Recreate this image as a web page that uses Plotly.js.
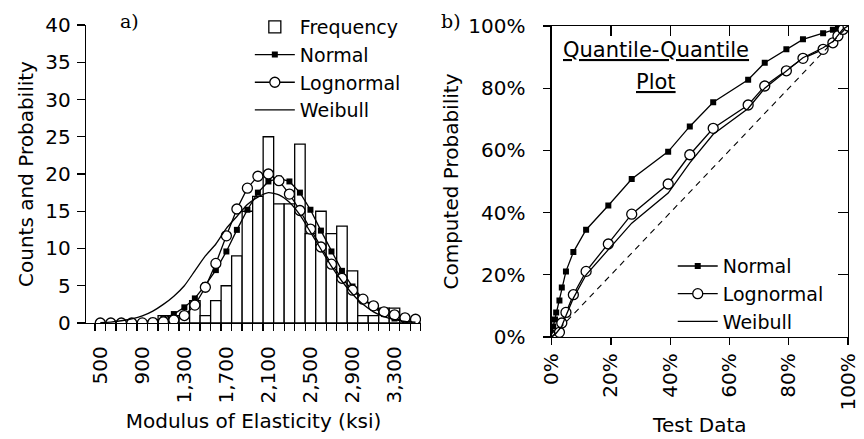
<!DOCTYPE html>
<html>
<head>
<meta charset="utf-8">
<script src="https://cdn.plot.ly/plotly-3.0.1.min.js"></script>
<style>html,body{margin:0;padding:0;background:#fff;}#chart{width:864px;height:439px;}</style>
</head>
<body>
<div id="chart"></div>
<script>
// ---- Panel a) histogram data (bin centres, ksi) ----
const bins = [500,600,700,800,900,1000,1100,1200,1300,1400,1500,1600,1700,1800,1900,2000,2100,2200,2300,2400,2500,2600,2700,2800,2900,3000,3100,3200,3300,3400,3500];
const frequency = [0,0,0,0,0,0,1,1,0,3,1,3,5,9,15,17,25,16,16,24,12,15,12,13,7,1,1,2,2,0,0];
const normalFit = [0.0,0.01,0.03,0.06,0.13,0.3,0.6,1.2,2.1,3.3,5.1,7.1,9.6,12.5,15.2,17.5,19.0,19.4,19.0,17.5,15.2,12.4,9.6,7.0,4.9,3.2,2.1,1.2,0.6,0.3,0.15];
const lognormalFit = [0,0,0,0,0.01,0.05,0.15,0.4,1.0,2.4,4.8,8.0,11.7,15.3,18.1,19.7,20.0,19.1,17.3,15.1,12.6,10.2,7.9,6.0,4.4,3.2,2.3,1.5,1.1,0.7,0.5];
const weibullFit = [0.05,0.12,0.3,0.55,0.95,1.6,2.5,3.6,5.0,7.0,9.0,10.6,12.7,14.3,15.9,16.9,17.5,17.2,16.2,14.5,12.2,9.9,7.6,5.6,3.9,2.5,1.5,0.85,0.45,0.2,0.1];
const xTickVals = [500,900,1300,1700,2100,2500,2900,3300];
const xTickText = ["500","900","1,300","1,700","2,100","2,500","2,900","3,300"];

// ---- Panel b) quantile-quantile data ----
const testData = [0.0,0.005,0.011,0.015,0.026,0.034,0.048,0.073,0.116,0.191,0.270,0.393,0.466,0.545,0.663,0.719,0.792,0.848,0.916,0.949,0.966,0.983,1.0];
const qqNormal = [0.013,0.034,0.056,0.079,0.117,0.159,0.211,0.273,0.345,0.423,0.508,0.596,0.677,0.755,0.827,0.882,0.925,0.957,0.977,0.988,0.993,0.997,1.0];
const qqLognormal = [0.0,0.0,0.001,0.003,0.015,0.045,0.079,0.136,0.211,0.299,0.395,0.492,0.586,0.671,0.746,0.807,0.856,0.896,0.925,0.946,0.968,0.989,1.0];
const qqWeibull = [0.0,0.003,0.008,0.012,0.025,0.035,0.068,0.125,0.200,0.282,0.366,0.463,0.560,0.652,0.735,0.800,0.856,0.898,0.930,0.950,0.970,0.990,1.0];
const refLine = [0, 1];

const FONT = "DejaVu Sans";
const FS = 20;
const black = "#000";

const traces = [
  {type:"bar", x:bins, y:frequency, name:"Frequency", width:100,
   marker:{color:"#fff", line:{color:black, width:1.3}}, xaxis:"x", yaxis:"y", legend:"legend"},
  {type:"scatter", mode:"lines+markers", x:bins, y:normalFit, name:"Normal",
   line:{color:black, width:1.3}, marker:{symbol:"square", size:6, color:black}, xaxis:"x", yaxis:"y", legend:"legend"},
  {type:"scatter", mode:"lines+markers", x:bins, y:lognormalFit, name:"Lognormal",
   line:{color:black, width:1.3}, marker:{symbol:"circle", size:10, color:"#fff", line:{color:black, width:1.3}}, xaxis:"x", yaxis:"y", legend:"legend"},
  {type:"scatter", mode:"lines", x:bins, y:weibullFit, name:"Weibull",
   line:{color:black, width:1.3, shape:"spline", smoothing:0.6}, xaxis:"x", yaxis:"y", legend:"legend"},

  {type:"scatter", mode:"lines", x:refLine, y:refLine, showlegend:false,
   line:{color:black, width:1.1, dash:"6px,5px"}, xaxis:"x3", yaxis:"y3"},
  {type:"scatter", mode:"lines+markers", x:testData, y:qqNormal, name:"Normal",
   line:{color:black, width:1.3}, marker:{symbol:"square", size:6, color:black}, xaxis:"x2", yaxis:"y2", legend:"legend2"},
  {type:"scatter", mode:"lines+markers", x:testData, y:qqLognormal, name:"Lognormal",
   line:{color:black, width:1.3}, marker:{symbol:"circle", size:10, color:"#fff", line:{color:black, width:1.3}}, xaxis:"x2", yaxis:"y2", legend:"legend2"},
  {type:"scatter", mode:"lines", x:testData, y:qqWeibull, name:"Weibull",
   line:{color:black, width:1.3}, xaxis:"x2", yaxis:"y2", legend:"legend2"}
];

const axBase = {showgrid:false, zeroline:false, showline:true, linecolor:black, linewidth:1.3,
  tickcolor:black, tickwidth:1.3, tickfont:{family:FONT, size:FS, color:black}};

const layout = {
  width:864, height:439,
  margin:{l:86, r:16, t:25, b:102, autoexpand:false},
  paper_bgcolor:"#fff", plot_bgcolor:"rgba(0,0,0,0)",
  font:{family:FONT, size:FS, color:black},
  bargap:0,
  xaxis:Object.assign({}, axBase, {
    domain:[0, 0.4396], range:[364, 3552], anchor:"y", automargin:false,
    tickmode:"array", tickvals:xTickVals, ticktext:xTickText, tickangle:-90,
    ticks:"", ticklabelstandoff:14,
    minor:{ticks:"outside", tick0:450, dtick:100, ticklen:7, tickwidth:1.3, tickcolor:black, showgrid:false},
    title:{text:"Modulus of Elasticity (ksi)", font:{family:FONT, size:FS, color:black}, standoff:11}
  }),
  yaxis:Object.assign({}, axBase, {
    domain:[0.0449, 1], range:[0, 40], dtick:5, anchor:"x", automargin:false,
    ticks:"outside", ticklen:8, ticklabelstandoff:2,
    title:{text:"Counts and Probability", font:{family:FONT, size:FS, color:black}, standoff:6}
  }),
  xaxis2:Object.assign({}, axBase, {
    domain:[0.6112, 1], range:[0, 1], anchor:"y2", dtick:0.2, tickformat:".0%", tickangle:-90, automargin:false,
    ticks:"outside", ticklen:7,
    title:{text:"Test Data", font:{family:FONT, size:FS, color:black}, standoff:8}
  }),
  yaxis2:Object.assign({}, axBase, {
    domain:[0, 0.9968], range:[0, 1], anchor:"x2", dtick:0.2, tickformat:".0%", automargin:false,
    ticks:"outside", ticklen:7, ticklabelstandoff:14,
    title:{text:"Computed Probability", font:{family:FONT, size:FS, color:black}, standoff:4}
  }),
  xaxis3:Object.assign({}, axBase, {
    overlaying:"x2", side:"top", anchor:"y3", range:[0, 1], dtick:0.2, automargin:false,
    ticks:"inside", ticklen:10, showticklabels:false
  }),
  yaxis3:Object.assign({}, axBase, {
    overlaying:"y2", side:"right", anchor:"x3", range:[0, 1], dtick:0.2, automargin:false,
    ticks:"inside", ticklen:10, showticklabels:false
  }),
  legend:{x:0.215, y:1.0545, xanchor:"left", yanchor:"top", bgcolor:"rgba(0,0,0,0)",
    font:{family:FONT, size:19, color:black}, tracegroupgap:0, itemwidth:40, traceorder:"normal"},
  legend2:{x:0.77, y:0.288, xanchor:"left", yanchor:"top", bgcolor:"rgba(0,0,0,0)",
    font:{family:FONT, size:19, color:black}, tracegroupgap:0, itemwidth:40, traceorder:"normal"},
  annotations:[
    {xref:"paper", yref:"paper", x:0.0577, y:1.013, text:"a)", showarrow:false,
     xanchor:"center", yanchor:"middle", font:{family:"DejaVu Serif", size:19, color:black}},
    {xref:"paper", yref:"paper", x:0.479, y:1.013, text:"b)", showarrow:false,
     xanchor:"center", yanchor:"middle", font:{family:"DejaVu Serif", size:19, color:black}},
    {xref:"paper", yref:"paper", x:0.7476, y:0.92, text:"<u>Quantile-Quantile</u>", showarrow:false,
     xanchor:"center", yanchor:"middle", font:{family:FONT, size:21, color:black}},
    {xref:"paper", yref:"paper", x:0.7476, y:0.817, text:"<u>Plot</u>", showarrow:false,
     xanchor:"center", yanchor:"middle", font:{family:FONT, size:21, color:black}}
  ],
  showlegend:true
};

Plotly.newPlot("chart", traces, layout, {displayModeBar:false, staticPlot:true});
</script>
</body>
</html>
